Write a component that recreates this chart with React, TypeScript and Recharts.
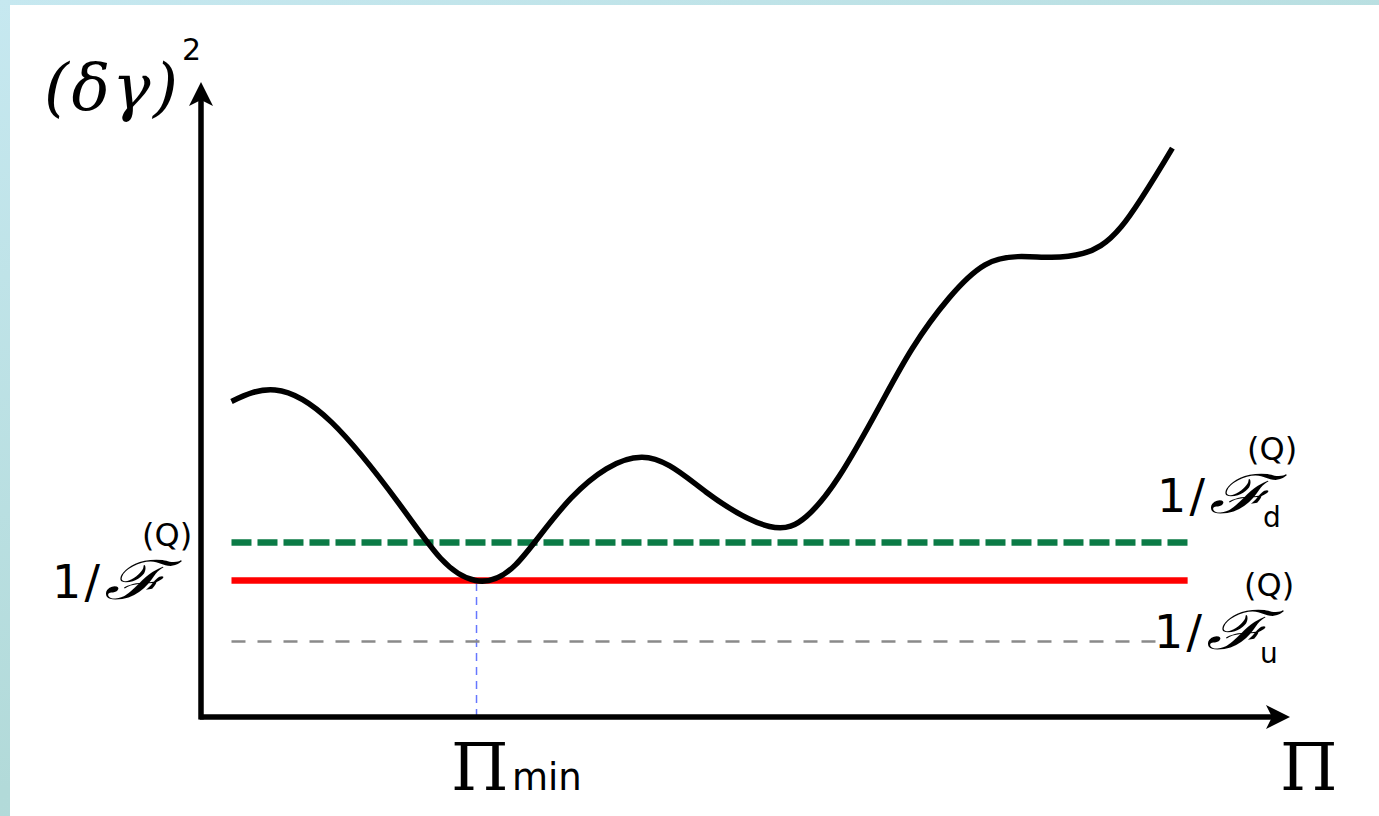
import { LineChart, Line, XAxis, YAxis, ReferenceLine, ReferenceDot } from "recharts";

// curve (δγ)^2 against Π
const piValues = [0.28, 0.68, 1.2, 1.81, 2.2, 2.52, 2.89, 3.4, 4.05, 4.64, 5.22, 5.56, 5.86, 6.23, 6.53, 6.87, 7.2, 7.5, 7.8, 8.1, 8.45, 8.92];
const deltaGamma = [4.97, 5.15, 4.64, 3.38, 2.5, 2.15, 2.4, 3.45, 4.09, 3.54, 3.0, 3.16, 3.79, 4.89, 5.8, 6.6, 7.12, 7.25, 7.24, 7.3, 7.72, 8.96];

// horizontal bounds
const boundStart = 0.28;
const boundEnd = 9.06;
const fisherD = 2.75; // 1/F_d^(Q)
const fisher = 2.15; // 1/F^(Q)
const fisherU = 1.19; // 1/F_u^(Q)
const piMin = 2.53;

const axisMax = 10;

const data = piValues.map((p, i) => ({ p, v: deltaGamma[i] }));

const W = 1379;
const H = 816;

function ArrowRight(props: any) {
  const { cx, cy } = props;
  return (
    <polygon
      points={`${cx},${cy} ${cx - 24},${cy - 12} ${cx - 18},${cy} ${cx - 24},${cy + 12}`}
      fill="#000"
    />
  );
}

function ArrowUp(props: any) {
  const { cx, cy } = props;
  return (
    <polygon
      points={`${cx},${cy} ${cx - 12},${cy + 24} ${cx},${cy + 18} ${cx + 12},${cy + 24}`}
      fill="#000"
    />
  );
}

function FisherLabel({ x, y, sub }: { x: number; y: number; sub?: string }) {
  const sans = "'DejaVu Sans', sans-serif";
  return (
    <g>
      <text x={x} y={y} fontFamily={sans} fontSize={46} fill="#000" textLength={48} lengthAdjust="spacing">
        1/
      </text>
      <text
        x={x + 52}
        y={y + 1}
        fontFamily="'DejaVu Serif', serif"
        fontStyle="italic"
        fontSize={54}
        fill="#000"
        textLength={62}
        lengthAdjust="spacingAndGlyphs"
      >
        ℱ
      </text>
      <text x={x + 90} y={y - 52} fontFamily={sans} fontSize={32} fill="#000">(Q)</text>
      {sub ? (
        <text x={x + 106} y={y + 15} fontFamily={sans} fontSize={28} fill="#000">{sub}</text>
      ) : null}
    </g>
  );
}

export default function App() {
  const sans = "'DejaVu Sans', sans-serif";
  const serif = "'DejaVu Serif', serif";
  return (
    <div
      style={{
        position: "absolute",
        left: 0,
        top: 0,
        width: W,
        height: H,
        overflow: "hidden",
        background: "linear-gradient(160deg, #c6e8f0 0%, #b2dad9 60%, #b5dcdc 100%)",
      }}
    >
      <div
        style={{
          position: "absolute",
          left: 10,
          top: 5,
          width: W - 10,
          height: H - 5,
          background: "#fff",
        }}
      />
      <div style={{ position: "absolute", left: 0, top: 0 }}>
        <LineChart
          width={W}
          height={H}
          data={data}
          margin={{ top: 82, left: 201, right: W - 1290, bottom: H - 717 }}
        >
          <XAxis dataKey="p" type="number" domain={[0, axisMax]} allowDataOverflow hide />
          <YAxis type="number" domain={[0, axisMax]} allowDataOverflow hide />
          <ReferenceLine
            segment={[{ x: piMin, y: 0 }, { x: piMin, y: fisher }]}
            stroke="#6677ff"
            strokeWidth={1.5}
            strokeDasharray="8 6"
            ifOverflow="visible"
          />
          <ReferenceLine
            segment={[{ x: boundStart, y: fisherU }, { x: boundEnd - 0.25, y: fisherU }]}
            stroke="#8a8a8a"
            strokeWidth={2.5}
            strokeDasharray="14 12"
            ifOverflow="visible"
          />
          <ReferenceLine
            segment={[{ x: boundStart, y: fisher }, { x: boundEnd, y: fisher }]}
            stroke="#ff0000"
            strokeWidth={6.5}
            ifOverflow="visible"
          />
          <ReferenceLine
            segment={[{ x: boundStart, y: fisherD }, { x: boundEnd, y: fisherD }]}
            stroke="#0b7b46"
            strokeWidth={6.5}
            strokeDasharray="20 6"
            ifOverflow="visible"
          />
          <Line
            type="natural"
            dataKey="v"
            stroke="#000"
            strokeWidth={5.5}
            dot={false}
            isAnimationActive={false}
          />
          {/* axes with arrowheads */}
          <ReferenceLine
            segment={[{ x: -0.012, y: 0 }, { x: axisMax - 0.1, y: 0 }]}
            stroke="#000"
            strokeWidth={5.5}
            ifOverflow="visible"
          />
          <ReferenceLine
            segment={[{ x: 0, y: -0.04 }, { x: 0, y: axisMax - 0.2 }]}
            stroke="#000"
            strokeWidth={5.5}
            ifOverflow="visible"
          />
          <ReferenceDot x={axisMax} y={0} r={0} shape={ArrowRight} ifOverflow="visible" />
          <ReferenceDot x={0} y={axisMax} r={0} shape={ArrowUp} ifOverflow="visible" />
        </LineChart>
      </div>
      <svg
        width={W}
        height={H}
        style={{ position: "absolute", left: 0, top: 0, pointerEvents: "none" }}
      >
        <text x={44} y={109} fontFamily={serif} fontStyle="italic" fontSize={64} fill="#000" textLength={134} lengthAdjust="spacing">
          (δγ)
        </text>
        <text x={182} y={60} fontFamily={sans} fontSize={30} fill="#000">2</text>

        <FisherLabel x={52} y={598} />
        <FisherLabel x={1157} y={512} sub="d" />
        <FisherLabel x={1154} y={648} sub="u" />

        <text x={451} y={790} fontFamily={serif} fontSize={66} fill="#000">Π</text>
        <text x={512} y={790} fontFamily={sans} fontSize={37} fill="#000">min</text>

        <text x={1280} y={790} fontFamily={serif} fontSize={66} fill="#000">Π</text>
      </svg>
    </div>
  );
}
